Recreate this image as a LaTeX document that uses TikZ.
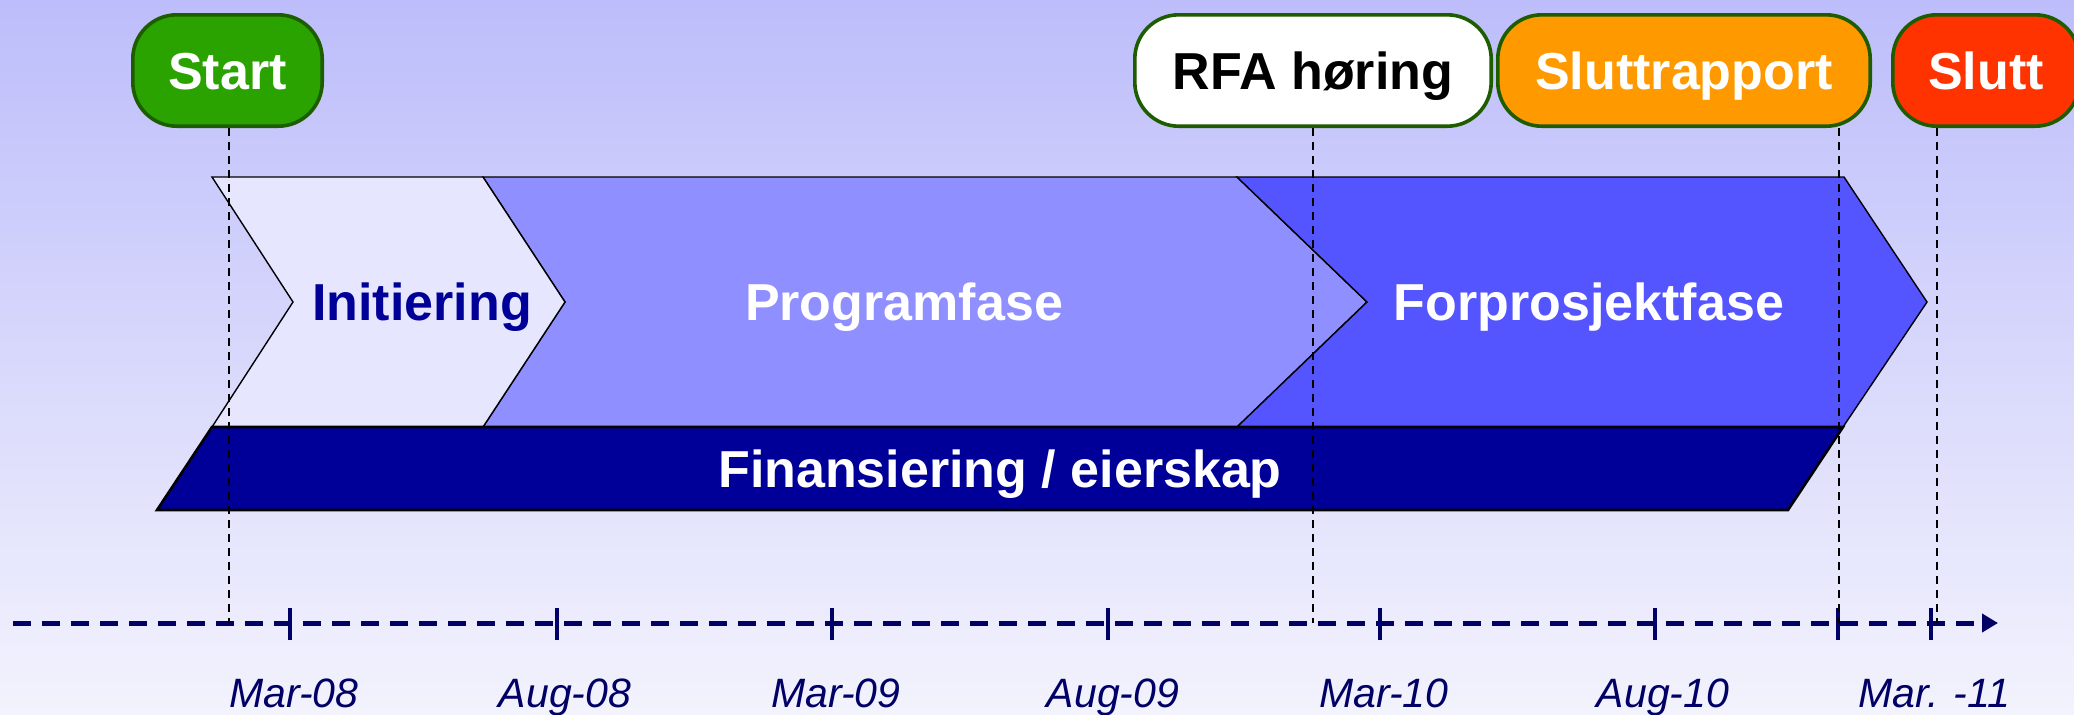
\documentclass[tikz,border=0pt]{standalone}
\usepackage{fontspec}
\setmainfont{Liberation Sans}
\usetikzlibrary{arrows.meta}
\definecolor{bgtop}{RGB}{189,189,251}
\definecolor{bgbot}{RGB}{243,243,253}
\definecolor{msgreen}{RGB}{42,163,0}
\definecolor{msborder}{RGB}{30,92,0}
\definecolor{msorange}{RGB}{255,153,0}
\definecolor{msred}{RGB}{255,51,0}
\definecolor{initfill}{RGB}{230,230,255}
\definecolor{progfill}{RGB}{143,143,255}
\definecolor{forfill}{RGB}{85,85,255}
\definecolor{finfill}{RGB}{0,0,153}
\definecolor{axiscol}{RGB}{0,0,102}
\begin{document}
\begin{tikzpicture}[x=0.5pt,y=-0.5pt,
  milestone/.style={draw=msborder, line width=1.8pt, rounded corners=22pt,
    minimum height=55.7pt, inner sep=0pt, text height=18.6pt, text depth=0pt,
    font=\fontsize{26}{30}\selectfont\bfseries},
  phaselabel/.style={font=\fontsize{26}{30}\selectfont\bfseries, inner sep=0pt,
    text height=18.6pt, text depth=0pt},
  phaseshape/.style={draw=black, line width=0.7pt, line join=miter},
  finshape/.style={draw=black, line width=1.3pt, line join=miter, fill=finfill},
  guide/.style={draw=black, line width=0.8pt, dash pattern=on 4pt off 3pt},
  axisline/.style={draw=axiscol, line width=2.5pt, dash pattern=on 9pt off 5.5pt},
  tickmark/.style={draw=axiscol, line width=1.8pt},
  datelabel/.style={font=\fontsize{20.5}{24}\selectfont\itshape, text=axiscol,
    anchor=base, inner sep=0pt}
]
\useasboundingbox (0,0) rectangle (2074,714);
\shade[top color=bgtop, bottom color=bgbot] (0,0) rectangle (2074,714);

% phases
\path[phaseshape, fill=progfill] (483,177) -- (1237,177) -- (1367,302) -- (1237,427) -- (483,427) -- (565,302) -- cycle;
\path[phaseshape, fill=forfill] (1237,177) -- (1844,177) -- (1927,302) -- (1843,427) -- (1237,427) -- (1367,302) -- cycle;
\path[phaseshape, fill=initfill] (212,177) -- (483,177) -- (565,302) -- (483,427) -- (212,427) -- (293,302) -- cycle;
\path[finshape] (212,427) -- (1843,427) -- (1788,510) -- (157,510) -- cycle;

\node[phaselabel, text=finfill] (init) at (422,302) {Initiering};
\node[phaselabel, text=white] (prog) at (904,302) {Programfase};
\node[phaselabel, text=white] (forp) at (1589,302) {Forprosjektfase};
\node[phaselabel, text=white] (fin) at (1000,468.5) {Finansiering / eierskap};

% milestones
\node[milestone, fill=msgreen, text=white, minimum width=94.7pt] (start) at (227.5,70.5) {Start};
\node[milestone, fill=white, text=black, minimum width=178.2pt] (rfa) at (1313,70.5) {RFA høring};
\node[milestone, fill=msorange, text=white, minimum width=186.2pt] (slrap) at (1684,70.5) {Sluttrapport};
\node[milestone, fill=msred, text=white, minimum width=93.2pt] (slutt) at (1986,70.5) {Slutt};

% axis
\coordinate (ax0) at (13,623);
\coordinate (ax1) at (1998,623);
\draw[axisline, -{Triangle[length=8pt,width=9pt]}] (ax0) -- (ax1);
\foreach \t in {290,557,832,1108,1380,1655,1838,1931}
  \draw[tickmark] (\t,608) -- (\t,640);

\node[datelabel] (d1) at (294,707) {Mar-08};
\node[datelabel] (d2) at (565,707) {Aug-08};
\node[datelabel] (d3) at (836,707) {Mar-09};
\node[datelabel] (d4) at (1113,707) {Aug-09};
\node[datelabel] (d5) at (1384,707) {Mar-10};
\node[datelabel] (d6) at (1663,707) {Aug-10};
\node[datelabel] (d7) at (1934,707) {Mar. -11};

% guide lines
\coordinate (g1) at (229,623);
\coordinate (g2) at (1313,623);
\coordinate (g3) at (1839,623);
\coordinate (g4) at (1937,623);
\draw[guide] (start.south -| g1) -- (g1);
\draw[guide] (rfa.south -| g2) -- (g2);
\draw[guide] (slrap.south -| g3) -- (g3);
\draw[guide] (slutt.south -| g4) -- (g4);
\end{tikzpicture}
\end{document}
